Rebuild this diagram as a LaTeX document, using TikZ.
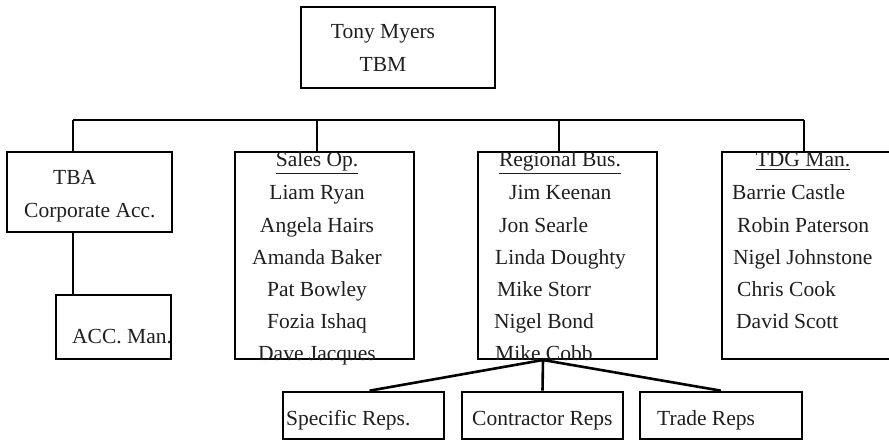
\documentclass[tikz,border=0pt]{standalone}
\usepackage{fontspec}
\setmainfont{Liberation Serif}
\begin{document}
\begin{tikzpicture}[x=1pt,y=-1pt,
  box/.style={draw, line width=2.6pt, inner sep=0pt},
  link/.style={line width=2.6pt},
  txt/.style={inner sep=0pt, font=\fontsize{21.5}{26}\selectfont, text=black!88},
  lt/.style={txt, anchor=base west},
  ct/.style={txt, anchor=base}]
\fill[white] (0,0) rectangle (889,441);
\useasboundingbox (0,0) rectangle (889,441);
\clip (0,0) rectangle (889,441);

% boxes
\node[box, minimum width=194, minimum height=81]  (top)   at (398,47.5)   {};
\node[box, minimum width=165, minimum height=80]  (tba)   at (89.5,192)   {};
\node[box, minimum width=115, minimum height=64]  (acc)   at (113.5,327)  {};
\node[box, minimum width=179, minimum height=207] (sales) at (324.5,255.5) {};
\node[box, minimum width=179, minimum height=207] (reg)   at (567.5,255.5) {};
\node[box, minimum width=175, minimum height=207] (tdg)   at (809.5,255.5) {};
\node[box, minimum width=161, minimum height=47]  (spec)  at (363.5,415.5) {};
\node[box, minimum width=161, minimum height=47]  (contr) at (542.5,415.5) {};
\node[box, minimum width=162, minimum height=47]  (trade) at (721,415.5)   {};

% bus line and drops
\coordinate (b1) at (73,120);
\coordinate (b2) at (317,120);
\coordinate (b3) at (559,120);
\coordinate (b4) at (804,120);
\draw[link] (b1) -- (b4);
\draw[link] (b1) -- (b1 |- tba.north);
\draw[link] (b2) -- (b2 |- sales.north);
\draw[link] (b3) -- (b3 |- reg.north);
\draw[link] (b4) -- (b4 |- tdg.north);
\draw[link] (b1 |- tba.south) -- (b1 |- acc.north);

% fan-out below the regional box
\coordinate (hub) at (543,360);
\draw[link] (hub) -- ([xshift=6pt]spec.north);
\draw[link] (hub) -- (contr.north);
\draw[link] (hub) -- (trade.north);

% texts
\node[ct] (t1) at (383,39) {Tony Myers};
\node[ct] (t2) at (383,72) {TBM};

\node[lt] (a1) at (53,185) {TBA};
\node[lt] (a2) at (24,217) {Corporate Acc.};
\node[lt] (a3) at (72,343) {ACC. Man.};

\node[ct] (s0) at (317,167) {\underline{Sales Op.}};
\node[ct] (s1) at (317,200) {Liam Ryan};
\node[ct] (s2) at (317,232) {Angela Hairs};
\node[ct] (s3) at (317,264) {Amanda Baker};
\node[ct] (s4) at (317,296) {Pat Bowley};
\node[ct] (s5) at (317,328) {Fozia Ishaq};
\node[ct] (s6) at (317,360) {Dave Jacques};

\node[ct] (r0) at (560,167) {\underline{Regional Bus.}};
\node[lt] (r1) at (509,200) {Jim Keenan};
\node[lt] (r2) at (499,232) {Jon Searle};
\node[lt] (r3) at (495,264) {Linda Doughty};
\node[lt] (r4) at (497,296) {Mike Storr};
\node[lt] (r5) at (494,328) {Nigel Bond};
\node[lt] (r6) at (495,360) {Mike Cobb};

\node[ct] (d0) at (803,167) {\underline{TDG Man.}};
\node[lt] (d1) at (732,200) {Barrie Castle};
\node[lt] (d2) at (737,232) {Robin Paterson};
\node[lt] (d3) at (733,264) {Nigel Johnstone};
\node[lt] (d4) at (737,296) {Chris Cook};
\node[lt] (d5) at (736,328) {David Scott};

\node[lt] (p1) at (286,425) {Specific Reps.};
\node[lt] (p2) at (472,425) {Contractor Reps};
\node[lt] (p3) at (657,425) {Trade Reps};
\end{tikzpicture}
\end{document}
